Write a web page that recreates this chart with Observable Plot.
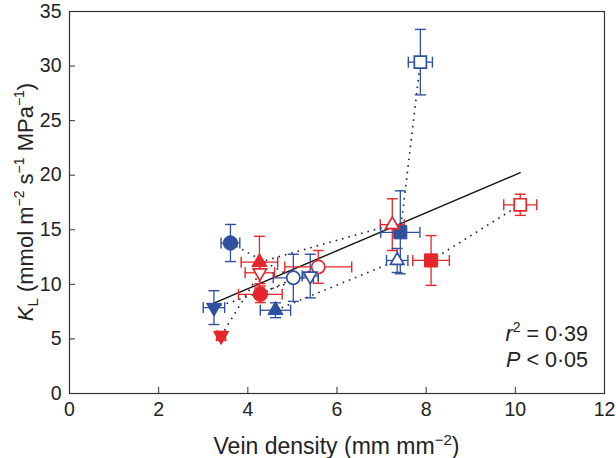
<!DOCTYPE html>
<html>
<head>
<meta charset="utf-8">
<script src="https://cdn.jsdelivr.net/npm/d3@7"></script>
<script src="https://cdn.jsdelivr.net/npm/@observablehq/plot@0.6"></script>
<style>
  html, body { margin: 0; padding: 0; background: #fff; }
  #chart svg { display: block; overflow: visible; }
</style>
</head>
<body>
<div id="chart"></div>
<script>
// ---- Data ----
const group       = ["G2","G2","G1","G1","G1","G1","G1","G1","G2","G2","G2","G2","G2","G2","G1","G1"];
const markerShape = ["circle","circle","triUp","triUp","triDown","triDown","circle","circle",
                     "triUp","triUp","triDown","triDown","square","square","square","square"];
const condition   = ["A","B","A","B","B","A","A","B","A","B","A","B","A","B","A","B"]; // A = filled, B = open
const veinDensity = [3.61, 5.02, 4.26, 7.24, 4.27, 3.40, 4.28, 5.58, 4.62, 7.35, 3.24, 5.40, 7.42, 7.87, 8.11, 10.11];
const kL          = [13.79, 10.60, 12.03, 15.47, 11.06, 5.29, 9.09, 11.60, 7.63, 12.19, 7.87, 10.76, 14.77, 30.36, 12.19, 17.29];
const veinErr     = [0.21, 0.45, 0.41, 0.27, 0.33, 0.10, 0.49, 0.75, 0.34, 0.24, 0.24, 0.18, 0.44, 0.27, 0.41, 0.37];
const kLErr       = [1.70, 2.16, 2.37, 2.37, 1.00, 0.40, 0.76, 1.50, 0.68, 1.10, 1.55, 2.00, 3.80, 3.00, 2.28, 0.97];
const pairs       = [[0,1],[2,3],[4,5],[6,7],[8,9],[10,11],[12,13],[14,15]];
const xTicks = [0, 2, 4, 6, 8, 10, 12];
const yTicks = [0, 5, 10, 15, 20, 25, 30, 35];
const stats  = {r2: "0·39", p: "0·05"};

// ---- Build tables ----
const points = veinDensity.map((x, i) => ({
  x, y: kL[i], xe: veinErr[i], ye: kLErr[i],
  group: group[i], shape: markerShape[i], cond: condition[i]
}));
const links = pairs.map(([a, b]) => ({x1: points[a].x, y1: points[a].y, x2: points[b].x, y2: points[b].y}));

const RED = "#e5262b", BLUE = "#2f4f9f";
const FONT = "'Liberation Sans', Arial, Helvetica, sans-serif";

// custom cap symbols
const hline = {draw(ctx, size) { const r = Math.sqrt(size / Math.PI); ctx.moveTo(-r, 0); ctx.lineTo(r, 0); }};
const vline = {draw(ctx, size) { const r = Math.sqrt(size / Math.PI); ctx.moveTo(0, -r); ctx.lineTo(0, r); }};

const shapeSpec = {
  circle:  {symbol: "circle",   r: 7.2, rotate: 0},
  square:  {symbol: "square",   r: 7.4, rotate: 0},
  triUp:   {symbol: "triangle", r: 5.6, rotate: 0},
  triDown: {symbol: "triangle", r: 5.6, rotate: 180}
};

const capStyle = {stroke: "group", fill: "none", strokeWidth: 1.4, r: 5.5};
const markerMarks = [];
for (const [name, spec] of Object.entries(shapeSpec)) {
  const filled = points.filter(d => d.shape === name && d.cond === "A");
  const open   = points.filter(d => d.shape === name && d.cond === "B");
  markerMarks.push(Plot.dot(filled, {x: "x", y: "y", symbol: spec.symbol, r: spec.r, rotate: spec.rotate,
    fill: "group", stroke: "group", strokeWidth: 1}));
  markerMarks.push(Plot.dot(open, {x: "x", y: "y", symbol: spec.symbol, r: spec.r - 0.6, rotate: spec.rotate,
    fill: "white", stroke: "group", strokeWidth: 1.7}));
}

const W = 616, H = 458, mL = 69, mR = 12, mT = 11, mB = 65;

const plot = Plot.plot({
  width: W,
  height: H,
  marginLeft: mL,
  marginRight: mR,
  marginTop: mT,
  marginBottom: mB,
  style: {fontFamily: FONT, background: "white", color: "#222"},
  x: {domain: [0, 12]},
  y: {domain: [0, 35]},
  color: {domain: ["G1", "G2"], range: [RED, BLUE]},
  marks: [
    Plot.link(links, {x1: "x1", y1: "y1", x2: "x2", y2: "y2", stroke: "#222", strokeWidth: 1.6, strokeDasharray: "1.6,5"}),
    Plot.linearRegressionY(points, {x: "x", y: "y", stroke: "#111", strokeWidth: 1.4, ci: 0}),
    Plot.ruleX(points, {x: "x", y1: d => d.y - d.ye, y2: d => d.y + d.ye, stroke: "group", strokeWidth: 1.3}),
    Plot.ruleY(points, {y: "y", x1: d => d.x - d.xe, x2: d => d.x + d.xe, stroke: "group", strokeWidth: 1.3}),
    Plot.dot(points, {x: "x", y: d => d.y + d.ye, symbol: hline, ...capStyle}),
    Plot.dot(points, {x: "x", y: d => d.y - d.ye, symbol: hline, ...capStyle}),
    Plot.dot(points, {x: d => d.x - d.xe, y: "y", symbol: vline, ...capStyle}),
    Plot.dot(points, {x: d => d.x + d.xe, y: "y", symbol: vline, ...capStyle}),
    ...markerMarks,
    Plot.frame({stroke: "#333", strokeWidth: 1.2}),
    Plot.axisX({ticks: xTicks, tickSize: -6, tickPadding: 15, fontSize: 19.5, label: null, stroke: "#333", fill: "#222"}),
    Plot.axisY({ticks: yTicks, tickSize: -6, tickPadding: 14, fontSize: 19.5, label: null, stroke: "#333", fill: "#222"})
  ]
});

document.getElementById("chart").appendChild(plot);

// ---- Rich-text labels (italic, sub/superscripts) ----
const svg = d3.select(plot);
const cx = mL + (W - mL - mR) / 2;
const cy = mT + (H - mT - mB) / 2;

const xt = svg.append("text")
  .attr("x", cx).attr("y", 454)
  .attr("text-anchor", "middle")
  .attr("font-family", FONT).attr("font-size", 23).attr("fill", "#222");
xt.append("tspan").text("Vein density (mm mm");
xt.append("tspan").attr("font-size", 15).attr("dy", -9).text("\u22122");
xt.append("tspan").attr("dy", 9).text(")");

const yt = svg.append("text")
  .attr("transform", `translate(33,${cy}) rotate(-90)`)
  .attr("text-anchor", "middle")
  .attr("font-family", FONT).attr("font-size", 22).attr("fill", "#222");
yt.append("tspan").attr("font-style", "italic").text("K");
yt.append("tspan").attr("font-size", 15).attr("dy", 5).text("L");
yt.append("tspan").attr("dy", -5).text(" (mmol m");
yt.append("tspan").attr("font-size", 14).attr("dy", -9).text("\u22122");
yt.append("tspan").attr("dy", 9).text(" s");
yt.append("tspan").attr("font-size", 14).attr("dy", -9).text("\u22121");
yt.append("tspan").attr("dy", 9).text(" MPa");
yt.append("tspan").attr("font-size", 14).attr("dy", -9).text("\u22121");
yt.append("tspan").attr("dy", 9).text(")");

const a1 = svg.append("text")
  .attr("x", 588).attr("y", 341).attr("text-anchor", "end")
  .attr("font-family", FONT).attr("font-size", 21.5).attr("fill", "#222");
a1.append("tspan").attr("font-style", "italic").text("r");
a1.append("tspan").attr("font-size", 14).attr("dy", -9).text("2");
a1.append("tspan").attr("dy", 9).text(" = " + stats.r2);

const a2 = svg.append("text")
  .attr("x", 588).attr("y", 367).attr("text-anchor", "end")
  .attr("font-family", FONT).attr("font-size", 21.5).attr("fill", "#222");
a2.append("tspan").attr("font-style", "italic").text("P");
a2.append("tspan").text(" < " + stats.p);
</script>
</body>
</html>
